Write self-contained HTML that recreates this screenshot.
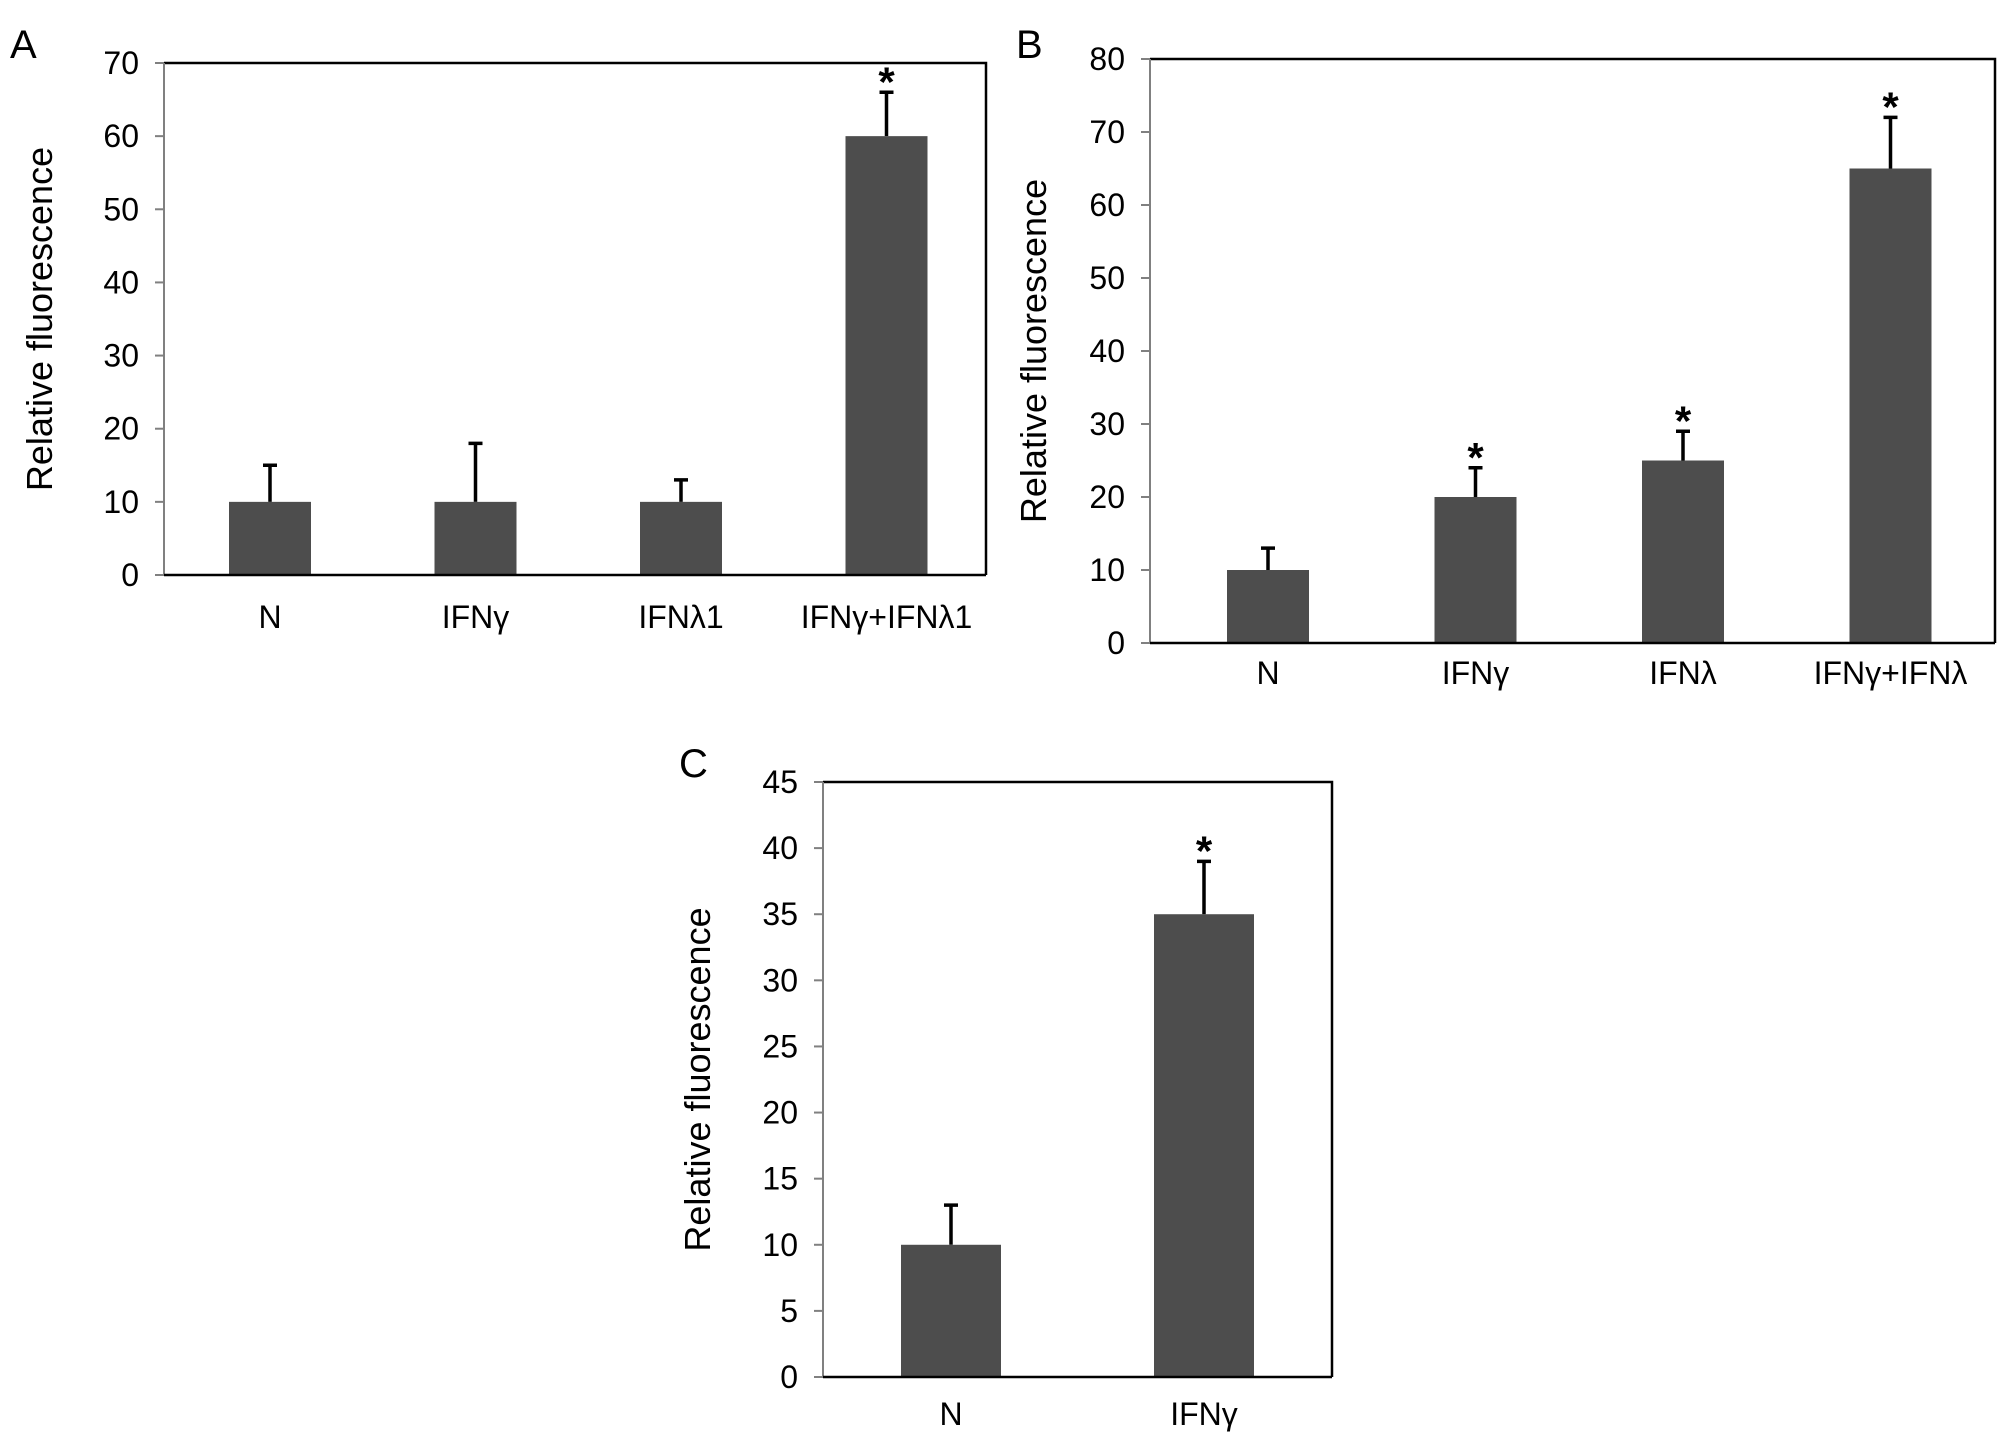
<!DOCTYPE html>
<html><head><meta charset="utf-8"><style>
html,body{margin:0;padding:0;background:#fff;}
svg{display:block;font-family:"Liberation Sans Narrow","Liberation Sans",sans-serif;}
</style></head><body>
<svg id="fig" width="2008" height="1442" viewBox="0 0 2008 1442" xmlns="http://www.w3.org/2000/svg"></svg>
<script>
const aCats=["N","IFNγ","IFNλ1","IFNγ+IFNλ1"];
const aVals=[10,10,10,60];
const aErrs=[15,18,13,66];
const aSig=[false,false,false,true];
const aTicks=[0,10,20,30,40,50,60,70];
const bCats=["N","IFNγ","IFNλ","IFNγ+IFNλ"];
const bVals=[10,20,25,65];
const bErrs=[13,24,29,72];
const bSig=[false,true,true,true];
const bTicks=[0,10,20,30,40,50,60,70,80];
const cCats=["N","IFNγ"];
const cVals=[10,35];
const cErrs=[13,39];
const cSig=[false,true];
const cTicks=[0,5,10,15,20,25,30,35,40,45];

const svg=document.getElementById('fig');
const NS='http://www.w3.org/2000/svg';
function mk(tag,attrs,parent,text){const e=document.createElementNS(NS,tag);for(const k in attrs)e.setAttribute(k,attrs[k]);if(text!==undefined)e.textContent=text;parent.appendChild(e);return e;}

function panel(id,letter,L,T,R,B,ticks,cats,vals,errs,sig,barW,letterPos,titleX,labY,firstX,step){
  const g=mk('g',{},svg);
  
  
  const max=ticks[ticks.length-1];
  const y=v=>B-(v/max)*(B-T);
  const x=i=>firstX+step*i;
  const lt=mk('text',{x:letterPos[0],y:letterPos[1],'font-size':40,fill:'#000'},g,letter);
  
  
  const fr=mk('path',{d:`M${L},${T} H${R} V${B}`,stroke:'#000','stroke-width':2.5,fill:'none'},g);
  
  
  const ya=mk('line',{x1:L,y1:T,x2:L,y2:B,stroke:'#808080','stroke-width':2},g);
  
  
  ticks.forEach(t=>{
    const tk=mk('line',{x1:L-9,y1:y(t),x2:L,y2:y(t),stroke:'#808080','stroke-width':2},g);
    
    
    const tl=mk('text',{x:L-25,y:y(t)+11,'font-size':32,'text-anchor':'end',fill:'#000'},g,String(t));
    
    
  });
  const ttl=mk('text',{x:titleX,y:(T+B)/2,'font-size':36,'text-anchor':'middle',fill:'#000','font-family':'Liberation Sans, sans-serif',transform:`rotate(-90 ${titleX} ${(T+B)/2})`},g,'Relative fluorescence');
  
  
  cats.forEach((c,i)=>{
    const cx=x(i);
    const eb=mk('path',{d:`M${cx},${y(vals[i])} V${y(errs[i])} M${cx-7},${y(errs[i])} H${cx+7}`,stroke:'#000','stroke-width':3.5,fill:'none'},g);
    
    
    const r=mk('rect',{x:cx-barW/2,y:y(vals[i]),width:barW,height:B-y(vals[i]),fill:'#4d4d4d'},g);
    
    
    if(sig[i]){
      const s=mk('text',{x:cx,y:y(errs[i])+4,'font-size':42,'font-weight':'bold','text-anchor':'middle',fill:'#000'},g,'*');
      
      
    }
    const cl=mk('text',{x:cx,y:labY,'font-size':32,'text-anchor':'middle',fill:'#000'},g,c);
    
    
  });
  const xa=mk('line',{x1:L,y1:B,x2:R,y2:B,stroke:'#000','stroke-width':2.5},g);
  
  
}
panel('a','A',164,63,986,575,aTicks,aCats,aVals,aErrs,aSig,82,[10,58],52,628,270,205.5);
panel('b','B',1150,59,1995,643,bTicks,bCats,bVals,bErrs,bSig,82,[1016,58],1046,684,1268,207.5);
panel('c','C',823,782,1332,1377,cTicks,cCats,cVals,cErrs,cSig,100,[679,777],710,1425,951,253);
</script>
</body></html>
